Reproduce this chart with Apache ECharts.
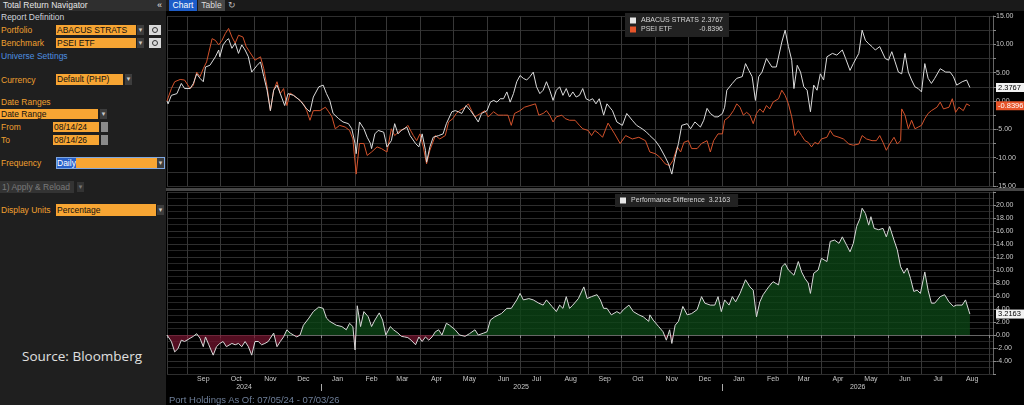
<!DOCTYPE html>
<html>
<head>
<meta charset="utf-8">
<title>Total Return Navigator</title>
<script src="https://cdn.jsdelivr.net/npm/echarts@6.0.0/dist/echarts.min.js"></script>
<style>
  body { margin: 0; width: 1024px; height: 405px; background: #000; overflow: hidden;
         font-family: 'Liberation Sans', Arial, sans-serif; }
  #panel { position: absolute; left: 0; top: 0; width: 166px; height: 405px; background: #1f1f1f; }
  #panel div { position: absolute; white-space: nowrap; font-size: 8.5px; line-height: 10px; }
  .hdr { left: 0; top: 0; width: 166px; height: 11px; background: #2f2f2f; color: #e6e6e6; }
  .lbl { color: #f0a030; }
  .box { background: #f7a533; color: #111; height: 10px; padding-left: 1px; box-sizing: border-box; }
  .dd { background: #3d3d3d; color: #ccc; width: 7px; height: 10px; font-size: 6px !important; text-align: center; }
  .srch { background: #d9d9d9; width: 12px; height: 10px; }
  .srch span { position: absolute; left: 3px; top: 2px; width: 4px; height: 4px; border: 1px solid #333; border-radius: 50%; }
  .cal { background: #8a8a8a; width: 7px; height: 10px; }
  #chart { position: absolute; left: 166px; top: 0; width: 858px; height: 405px; }
  #tabs { position: absolute; left: 166px; top: 0; width: 858px; height: 11px; background: #1a1a1a; z-index: 2; }
  #tabs div { position: absolute; top: 0; height: 11px; line-height: 11px; font-size: 8.5px; text-align: center; }
  #holdings { position: absolute; left: 169px; top: 394px; font-size: 9.5px; color: #6e7f99; z-index: 2; }
</style>
</head>
<body>
<div id="panel">
  <div class="hdr"><span style="position:absolute;left:3px;top:0;line-height:11px">Total Return Navigator</span><span style="position:absolute;right:4px;top:0;line-height:11px">«</span></div>
  <div style="left:1px;top:12px;color:#cfd4dc">Report Definition</div>
  <div class="lbl" style="left:1px;top:25px">Portfolio</div>
  <div class="box" style="left:56px;top:25px;width:80px">ABACUS STRATS</div>
  <div class="dd" style="left:137px;top:25px">▼</div>
  <div class="srch" style="left:149px;top:25px"><span></span></div>
  <div class="lbl" style="left:1px;top:38px">Benchmark</div>
  <div class="box" style="left:56px;top:38px;width:80px">PSEI ETF</div>
  <div class="dd" style="left:137px;top:38px">▼</div>
  <div class="srch" style="left:149px;top:38px"><span></span></div>
  <div style="left:1px;top:51px;color:#4d8fe0">Universe Settings</div>
  <div class="lbl" style="left:1px;top:75px">Currency</div>
  <div class="box" style="left:56px;top:74px;width:67px;height:11px;line-height:11px">Default (PHP)</div>
  <div class="dd" style="left:125px;top:74px;height:11px">▼</div>
  <div class="lbl" style="left:1px;top:97px">Date Ranges</div>
  <div class="box" style="left:0;top:109px;width:98px">Date Range</div>
  <div class="dd" style="left:100px;top:109px">▼</div>
  <div class="lbl" style="left:1px;top:122px">From</div>
  <div class="box" style="left:53px;top:122px;width:46px">08/14/24</div>
  <div class="cal" style="left:101px;top:122px"></div>
  <div class="lbl" style="left:1px;top:135px">To</div>
  <div class="box" style="left:53px;top:135px;width:46px">08/14/26</div>
  <div class="cal" style="left:101px;top:135px"></div>
  <div class="lbl" style="left:1px;top:158px">Frequency</div>
  <div class="box" style="left:56px;top:157px;width:109px;height:12px;border:1px solid #7fa7e0;padding:0"><span style="background:#2a62c9;color:#fff;line-height:10px;display:inline-block;height:10px">Daily</span></div>
  <div class="dd" style="left:157px;top:158px">▼</div>
  <div style="left:0;top:181px;width:74px;height:12px;line-height:12px;background:#333;color:#7a7a7a;padding-left:2px;box-sizing:border-box">1) Apply &amp; Reload</div>
  <div class="dd" style="left:77px;top:182px;background:#333;color:#777">▼</div>
  <div class="lbl" style="left:1px;top:205px">Display Units</div>
  <div class="box" style="left:56px;top:204px;width:100px;height:12px;line-height:12px">Percentage</div>
  <div class="dd" style="left:157px;top:205px">▼</div>
  <div style="left:22px;top:347px;font-size:13.5px;line-height:18px;color:#e0e0e0;font-family:'Open Sans',sans-serif">Source: Bloomberg</div>
</div>

<div id="chart"></div>
<div id="tabs">
  <div style="left:3px;width:28px;background:#1d5cc8;color:#fff">Chart</div>
  <div style="left:32px;width:27px;background:#474747;color:#ddd">Table</div>
  <div style="left:62px;width:8px;color:#bbb">↻</div>
</div>
<div id="holdings">Port Holdings As Of: 07/05/24 - 07/03/26</div>

<script>
// 数据:日序号(自 2024-08-14 起)与数值(%)
const startUTC = Date.UTC(2024, 7, 14)
const dayCount = 752
const monthNames = ['Jan', 'Feb', 'Mar', 'Apr', 'May', 'Jun', 'Jul', 'Aug', 'Sep', 'Oct', 'Nov', 'Dec']
const yearLabels = ['2024', '2025', '2026']
const seriesNames = ['ABACUS STRATS', 'PSEI ETF', 'Performance Difference']

const abacus = [[0,0],[1,-0.5],[4,1.0],[9,1.3],[13,3.1],[16,2.2],[21,2.2],[24,3.1],[27,4.8],[30,4.0],[33,3.4],[35,6.0],[39,6.3],[44,7.8],[47,9.0],[48,7.8],[51,9.9],[54,10.7],[56,11.0],[59,9.3],[62,10.2],[65,8.4],[68,9.9],[71,9.0],[74,7.8],[77,5.1],[82,6.3],[85,6.9],[88,4.3],[91,1.9],[94,-1.7],[97,1.9],[100,2.8],[103,1.3],[107,-0.8],[110,1.3],[115,1.0],[121,0.1],[127,-1.4],[130,-1.9],[133,0.7],[138,2.5],[142,2.8],[145,1.3],[148,0.1],[151,-2.2],[156,-3.1],[160,-3.7],[165,-4.0],[168,-4.9],[171,-7.5],[172,-9.3],[175,-3.7],[179,-4.9],[182,-6.4],[185,-7.5],[186,-8.4],[189,-5.8],[192,-5.2],[197,-5.5],[200,-8.1],[204,-7.0],[207,-4.0],[210,-5.8],[213,-5.2],[218,-4.6],[221,-6.1],[226,-7.5],[229,-8.1],[232,-5.8],[235,-8.7],[236,-10.8],[239,-8.1],[242,-6.4],[247,-6.1],[251,-5.8],[254,-4.0],[259,-1.9],[262,-1.7],[265,-1.9],[268,-2.2],[272,-0.8],[276,-1.7],[280,-2.8],[283,-3.7],[286,-2.2],[291,-1.7],[294,-0.2],[297,0.1],[300,-0.2],[303,0.4],[306,0.4],[309,1.6],[312,-0.2],[315,1.3],[318,3.4],[321,4.5],[324,4.0],[327,3.7],[330,4.3],[333,5.1],[336,2.5],[339,1.3],[342,1.9],[345,3.4],[348,1.9],[351,0.1],[354,1.9],[357,2.5],[360,1.0],[363,2.2],[366,0.7],[369,1.6],[372,0.7],[375,1.0],[378,2.2],[381,0.4],[384,0.1],[387,0.4],[390,-0.5],[393,0.4],[397,-2.5],[400,-0.5],[405,-1.7],[409,-3.7],[414,-4.3],[418,-2.2],[423,-3.4],[427,-4.3],[432,-4.9],[436,-5.5],[439,-6.1],[444,-7.0],[448,-8.1],[453,-9.9],[456,-11.1],[459,-12.9],[462,-9.9],[465,-7.5],[468,-4.3],[473,-4.0],[476,-4.9],[480,-3.7],[485,-4.6],[488,-3.4],[491,-1.3],[494,-2.2],[498,-2.8],[501,-2.8],[505,-2.2],[507,-1.1],[509,1.9],[514,3.1],[518,4.0],[523,4.3],[526,6.6],[529,5.4],[532,4.3],[535,0.1],[538,4.3],[541,5.1],[545,7.5],[550,6.0],[554,6.0],[559,10.4],[562,12.5],[565,9.6],[568,7.2],[570,2.2],[573,6.3],[576,5.1],[579,2.5],[582,1.9],[585,-1.9],[588,2.8],[591,1.9],[594,4.8],[597,3.7],[600,7.8],[605,8.4],[609,8.1],[614,9.0],[617,7.5],[621,5.4],[624,6.6],[629,8.4],[632,12.5],[635,10.7],[638,10.1],[641,9.6],[644,9.0],[648,9.6],[653,7.5],[656,7.2],[659,8.7],[662,6.9],[665,5.1],[668,4.8],[671,8.4],[674,5.1],[677,3.7],[680,2.5],[683,2.2],[686,1.6],[689,6.6],[692,4.0],[695,3.1],[698,4.0],[703,5.7],[708,5.1],[712,5.1],[715,4.3],[718,2.8],[723,3.4],[727,3.7],[730,2.3767]]

const psei = [[0,0],[1,0.1],[4,2.2],[7,3.4],[12,3.8],[16,3.7],[21,2.2],[24,2.8],[27,5.1],[30,4.3],[33,5.7],[36,6.9],[41,11.0],[44,10.7],[47,9.9],[50,10.7],[53,11.9],[56,12.8],[59,11.3],[62,10.2],[65,11.6],[69,11.3],[72,9.6],[75,8.7],[80,7.2],[85,7.8],[88,5.7],[91,2.5],[94,-1.7],[97,1.9],[100,3.4],[103,1.3],[106,2.2],[109,-0.8],[112,1.4],[115,1.0],[119,0.4],[124,-0.5],[127,-1.7],[130,-3.4],[133,-1.7],[139,-1.7],[144,-1.1],[147,-1.9],[150,-2.8],[153,-4.9],[157,-4.3],[162,-4.6],[166,-5.2],[169,-6.7],[172,-12.9],[175,-7.5],[179,-7.5],[182,-9.6],[186,-9.0],[191,-8.1],[195,-8.4],[200,-9.0],[204,-4.9],[207,-6.1],[212,-5.2],[216,-4.9],[219,-4.3],[224,-6.1],[227,-7.0],[230,-5.8],[233,-8.1],[236,-11.1],[239,-8.7],[244,-6.1],[248,-6.7],[253,-6.1],[256,-3.7],[260,-3.1],[263,-2.2],[266,-1.7],[271,-1.1],[274,-0.5],[277,-1.7],[280,-2.8],[285,-2.2],[289,-1.7],[292,-2.8],[297,-1.9],[301,-2.5],[306,-2.5],[310,-2.5],[313,-4.3],[316,-2.2],[321,-1.7],[325,-1.1],[330,-0.8],[335,-0.5],[338,-2.5],[342,-2.2],[345,-1.7],[348,-2.5],[351,-3.7],[354,-2.8],[359,-2.5],[362,-3.1],[366,-3.4],[371,-3.4],[375,-4.3],[378,-4.9],[383,-5.2],[386,-6.1],[389,-5.2],[393,-5.8],[396,-6.4],[401,-3.9],[407,-5.8],[412,-7.5],[417,-6.1],[423,-6.7],[429,-6.4],[435,-7.0],[439,-9.0],[444,-9.3],[448,-9.9],[453,-11.1],[457,-11.4],[460,-10.5],[464,-8.1],[467,-9.0],[470,-7.3],[474,-7.0],[477,-8.4],[482,-8.4],[486,-7.5],[491,-7.0],[494,-9.0],[497,-7.0],[501,-5.8],[505,-5.8],[507,-3.4],[511,-2.8],[515,-1.7],[518,-0.5],[521,-1.1],[524,-2.5],[527,-2.0],[530,-2.5],[533,-4.0],[536,-2.2],[539,-1.4],[542,-2.0],[545,-0.8],[548,-1.4],[551,-0.2],[556,0.4],[559,1.9],[562,1.0],[565,-0.5],[568,-2.8],[571,-6.1],[574,-5.2],[577,-6.1],[580,-7.0],[583,-7.3],[586,-8.1],[589,-7.3],[592,-7.6],[595,-6.7],[600,-6.4],[603,-5.2],[606,-6.1],[611,-6.4],[615,-6.7],[620,-7.6],[624,-7.8],[629,-7.6],[632,-6.1],[636,-6.7],[641,-7.0],[645,-7.0],[648,-6.1],[651,-7.3],[654,-8.7],[657,-7.6],[661,-6.4],[664,-7.6],[667,-7.0],[668,-1.4],[671,-2.5],[674,-4.9],[677,-3.4],[680,-4.9],[683,-4.6],[686,-4.3],[689,-3.1],[692,-2.2],[695,-1.7],[700,-1.1],[703,-0.2],[706,-1.4],[711,-1.1],[714,0.4],[717,-2.0],[720,-1.1],[724,-1.7],[727,-0.5],[730,-0.8396]]

const perfDiff = [[0,0],[1,-0.3],[4,-1.0],[7,-2.6],[10,-2.1],[13,-0.8],[16,-1.0],[21,-0.5],[24,-0.2],[27,0.2],[30,-0.5],[33,-1.8],[35,-0.3],[38,-1.5],[42,-3.1],[45,-1.8],[48,-1.3],[51,-1.0],[54,-1.8],[59,-1.3],[62,-1.5],[65,-1.3],[68,-1.8],[71,-1.0],[74,-1.8],[77,-3.1],[80,-1.0],[83,-1.0],[86,-1.5],[89,-1.3],[92,-1.0],[97,0.3],[100,-1.8],[103,-1.0],[106,-0.3],[109,0.8],[112,0.3],[115,0],[118,-0.3],[121,0],[124,1.5],[129,2.6],[133,3.6],[138,4.3],[142,4.1],[145,2.6],[148,2.1],[151,1.8],[154,1.5],[159,1.3],[163,0.8],[166,1.8],[169,1.3],[171,-2.3],[173,4.5],[176,1.3],[179,3.6],[183,2.8],[186,1.3],[189,2.3],[193,3.4],[196,2.3],[199,0],[203,1.3],[206,0.8],[210,0.3],[213,-0.2],[216,-0.3],[219,-0.4],[222,-0.8],[226,-1.5],[229,-0.3],[232,-1.0],[235,-0.3],[238,-0.8],[241,-0.3],[244,0.5],[247,0.8],[250,0],[254,1.8],[257,1.5],[262,0.8],[266,0],[271,-0.2],[275,0.2],[280,0.8],[283,0],[288,0.3],[291,0.5],[294,2.3],[298,2.8],[304,3.3],[309,4.1],[313,4.1],[318,5.4],[321,6.4],[324,5.4],[329,5.6],[333,5.4],[338,4.9],[342,4.6],[345,5.4],[350,4.4],[354,3.6],[357,4.6],[360,4.1],[363,5.9],[366,4.1],[369,4.6],[374,5.6],[379,7.4],[382,5.6],[386,5.9],[391,6.2],[394,5.4],[397,4.1],[400,4.1],[404,3.1],[409,3.6],[412,3.3],[415,3.9],[420,4.6],[424,3.6],[429,3.1],[433,2.8],[438,2.1],[439,3.1],[442,2.3],[447,1.3],[451,0.5],[454,-0.8],[457,0.8],[459,-1.3],[462,1.5],[465,2.1],[469,4.4],[473,3.1],[477,3.3],[482,3.9],[486,5.9],[489,4.9],[494,4.6],[498,4.6],[501,5.9],[504,3.6],[507,5.4],[511,4.6],[514,5.9],[517,5.1],[521,6.4],[526,8.5],[530,7.4],[533,6.9],[536,2.8],[539,5.1],[542,6.2],[547,7.4],[551,8.2],[556,7.7],[559,10.5],[562,11.0],[565,10.0],[570,9.2],[574,11.3],[577,9.7],[580,8.7],[583,8.0],[585,6.4],[588,9.5],[592,10.0],[595,11.8],[600,11.3],[603,14.4],[607,14.6],[611,14.1],[614,15.1],[618,13.8],[621,12.8],[624,14.1],[627,16.7],[630,17.9],[632,19.5],[635,18.7],[638,16.9],[640,18.2],[643,16.4],[647,16.2],[651,16.4],[654,15.1],[657,16.7],[661,14.6],[664,13.1],[667,10.5],[670,9.5],[673,10.3],[676,8.7],[679,6.7],[682,6.9],[685,6.4],[689,9.7],[692,6.9],[695,4.9],[698,4.9],[703,5.9],[707,6.2],[711,5.1],[715,4.4],[718,4.6],[723,4.6],[726,5.4],[730,3.2163]]

// 日期类目
const categories = []
for (let i = 0; i < dayCount; i++) {
  categories.push(new Date(startUTC + i * 86400000).toISOString().slice(0, 10))
}

// 每年可见区间的中点,用于年份标签
const yearMid = {}
yearLabels.forEach((y) => {
  const idx = []
  categories.forEach((d, i) => { if (d.startsWith(y)) idx.push(i) })
  yearMid[Math.round((idx[0] + idx[idx.length - 1]) / 2)] = y
})

const lastValue = (arr) => arr[arr.length - 1][1].toFixed(4)
const lastOf = { [seriesNames[0]]: lastValue(abacus), [seriesNames[1]]: lastValue(psei), [seriesNames[2]]: lastValue(perfDiff) }

const isMonthStart = (i, v) => i === 0 || v.endsWith('-01')
const isMidMonth = (i, v) => v.endsWith('-16') && v !== '2024-08-16'
const isYearStart = (i, v) => v.endsWith('-01-01')

const gridColor = '#2e2e2e'
const vGridColor = '#373737'
const axisTextColor = '#c8c8c8'

// 右侧末值标签
const endLabel = (series, bg, fg) => ({
  silent: true,
  symbol: ['none', 'none'],
  lineStyle: { width: 0, color: 'rgba(0,0,0,0)', opacity: 1 },
  label: {
    show: true, position: 'end', distance: 3, opacity: 1,
    formatter: () => lastOf[series],
    backgroundColor: bg, color: fg, padding: [1, 4, 0, 2], fontSize: 7.5,
  },
  data: [{ yAxis: Number(lastOf[series]) }],
})

const chart = echarts.init(document.getElementById('chart'))

chart.setOption({
  animation: false,
  backgroundColor: '#000',
  textStyle: { fontFamily: "'Liberation Sans', Arial, sans-serif" },
  grid: [
    { left: 1, right: 31, top: 16, height: 170, outerBoundsMode: 'none' },
    { left: 1, right: 31, top: 192, height: 182, outerBoundsMode: 'none' },
  ],
  legend: [
    {
      data: [seriesNames[0], seriesNames[1]],
      left: 459, top: 13, orient: 'vertical', itemGap: 2,
      icon: 'rect', itemWidth: 6, itemHeight: 6,
      backgroundColor: '#222', padding: [4, 6, 4, 5], selectedMode: false,
      formatter: (name) => `{n|${name}}{v|${lastOf[name]}}`,
      textStyle: { color: '#d4d4d4', fontSize: 7, rich: { n: { width: 58, fontSize: 7 }, v: { width: 24, align: 'right', fontSize: 7 } } },
    },
    {
      data: [seriesNames[2]],
      left: 449, top: 194, icon: 'rect', itemWidth: 6, itemHeight: 6,
      backgroundColor: '#222', padding: [3, 8, 3, 5], selectedMode: false,
      formatter: (name) => `${name}  ${lastOf[name]}`,
      textStyle: { color: '#d4d4d4', fontSize: 7 },
    },
  ],
  visualMap: {
    type: 'piecewise', show: false, seriesIndex: 2, dimension: 1,
    pieces: [
      { gt: -50, lte: 0, color: 'rgba(112, 18, 44, 0.75)' },
      { gt: 0, lte: 50, color: 'rgba(12, 70, 22, 0.78)' },
    ],
    outOfRange: { color: 'rgba(12, 70, 22, 0.78)' },
  },
  xAxis: [
    {
      type: 'category', gridIndex: 0, data: categories, boundaryGap: false,
      axisLine: { show: false }, axisTick: { show: false }, axisLabel: { show: false },
      splitLine: { show: true, interval: isMonthStart, lineStyle: { color: vGridColor, width: 1 } },
    },
    {
      type: 'category', gridIndex: 1, position: 'bottom', data: categories, boundaryGap: false,
      axisLine: { show: true, lineStyle: { color: '#666' } },
      axisTick: { show: true, interval: isMonthStart, length: 3, lineStyle: { color: '#888' } },
      axisLabel: {
        interval: isMidMonth, margin: 2, color: axisTextColor, fontSize: 7,
        formatter: (v) => monthNames[Number(v.slice(5, 7)) - 1],
      },
      splitLine: { show: true, interval: isMonthStart, lineStyle: { color: vGridColor, width: 1 } },
    },
    {
      type: 'category', gridIndex: 1, position: 'bottom', data: categories, boundaryGap: false, offset: 10,
      axisLine: { show: false },
      axisTick: { show: true, interval: isYearStart, length: 7, lineStyle: { color: '#aaa' } },
      axisLabel: {
        interval: (i) => yearMid[i] !== undefined, margin: 0, color: axisTextColor, fontSize: 7,
        formatter: (v) => v.slice(0, 4),
      },
      splitLine: { show: false },
    },
  ],
  yAxis: [
    {
      type: 'value', gridIndex: 0, position: 'right', min: -15, max: 15, interval: 2.5,
      axisLine: { show: true, lineStyle: { color: '#666' } },
      axisTick: { show: true, length: 3, lineStyle: { color: '#888' } },
      axisLabel: { color: axisTextColor, fontSize: 7, margin: 3, formatter: (v) => (v % 5 === 0 ? v.toFixed(2) : '') },
      splitLine: { show: true, lineStyle: { color: gridColor } },
    },
    {
      type: 'value', gridIndex: 1, position: 'right', min: -6, max: 22, interval: 2,
      axisLine: { show: true, lineStyle: { color: '#666' } },
      axisTick: { show: true, length: 3, lineStyle: { color: '#888' } },
      axisLabel: { color: axisTextColor, fontSize: 7, margin: 3, formatter: (v) => (v <= -6 || v >= 22 ? '' : v.toFixed(2)) },
      splitLine: { show: true, lineStyle: { color: gridColor } },
      minorTick: { show: false, splitNumber: 2 },
      minorSplitLine: { show: true, lineStyle: { color: '#262626' } },
    },
  ],
  series: [
    {
      name: seriesNames[0], type: 'line', xAxisIndex: 0, yAxisIndex: 0, data: abacus,
      showSymbol: false, symbol: 'none', color: '#e6e6e6', lineStyle: { width: 1, color: '#dcdcdc' }, z: 4,
      markLine: endLabel(seriesNames[0], '#f2f2f2', '#000'),
    },
    {
      name: seriesNames[1], type: 'line', xAxisIndex: 0, yAxisIndex: 0, data: psei,
      showSymbol: false, symbol: 'none', color: '#e8552a', lineStyle: { width: 1, color: '#d4532c' }, z: 3,
      markLine: endLabel(seriesNames[1], '#e8552a', '#fff'),
    },
    {
      name: 'perfFill', type: 'line', xAxisIndex: 1, yAxisIndex: 1, data: perfDiff,
      showSymbol: false, symbol: 'none', lineStyle: { width: 0 }, areaStyle: { opacity: 1 }, z: 2, silent: true,
    },
    {
      name: seriesNames[2], type: 'line', xAxisIndex: 1, yAxisIndex: 1, data: perfDiff,
      showSymbol: false, symbol: 'none', color: '#e6e6e6', lineStyle: { width: 1, color: '#d8d8d8' }, z: 3,
      markLine: endLabel(seriesNames[2], '#f2f2f2', '#000'),
    },
  ],
  graphic: [
    { type: 'rect', shape: { x: 0, y: 188, width: 858, height: 3 }, style: { fill: '#464646' }, silent: true },
  ],
})
</script>
</body>
</html>
